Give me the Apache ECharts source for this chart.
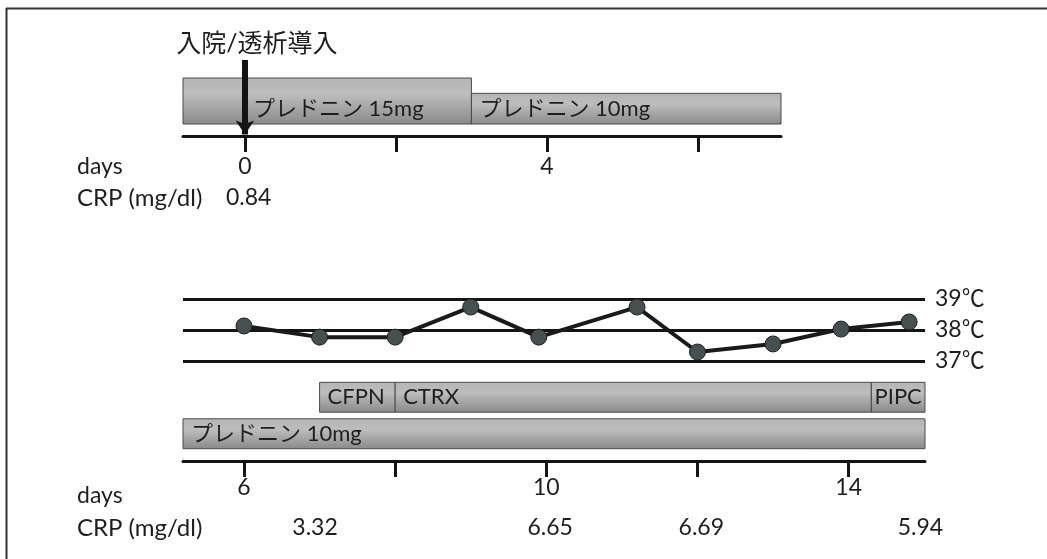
<!DOCTYPE html>
<html><head><meta charset="utf-8">
<script src="https://cdn.jsdelivr.net/npm/echarts@6/dist/echarts.min.js"></script>
<style>html,body{margin:0;padding:0;background:#fff}#c{width:1047px;height:559px}</style>
</head><body><div id="c"></div><script>
// ---- data ----
const admissionDay = 0;
const admissionLabel = '入院/透析導入';
const topDayRange = [-0.82, 7.10];
const topPredStart = [-0.82, 3.0];
const topPredEnd = [3.0, 7.10];
const topPredDose = [15, 10];
const topPredLabel = ['プレドニン 15mg', 'プレドニン 10mg'];
const topTicks = [0, 2, 4, 6];
const topTickLabels = [0, 4];
const topCrpDays = [0.05];
const topCrpValues = ['0.84'];

const bottomDayRange = [5.193, 15.01];
const tempDays = [6, 7, 8, 9, 9.9, 11.2, 12, 13, 13.9, 14.8];
const tempValues = [38.13, 37.77, 37.77, 38.74, 37.77, 38.74, 37.29, 37.55, 38.03, 38.26];
const tempRange = [37, 39];
const drugRows = ['プレドニン', '抗菌薬'];
const drugStart = [5.193, 7.0, 8.0, 14.3];
const drugEnd = [15.01, 8.0, 14.3, 15.01];
const drugRow = ['プレドニン', '抗菌薬', '抗菌薬', '抗菌薬'];
const drugLabel = ['プレドニン 10mg', 'CFPN', 'CTRX', 'PIPC'];
const bottomTicks = [6, 8, 10, 12, 14];
const bottomTickLabels = [6, 10, 14];
const bottomCrpDays = [6.94, 10.05, 12.05, 14.95];
const bottomCrpValues = ['3.32', '6.65', '6.69', '5.94'];
const rowTitles = ['days', 'CRP (mg/dl)'];

// ---- style ----
const FONT = 'Lato, "Noto Sans CJK JP", sans-serif';
const TXT = '#1e1e1e';
const INK = '#141414';
const FS = 23;
const barFill = {type:'linear', x:0, y:0, x2:0, y2:1, global:false,
  colorStops:[{offset:0,color:'#b4b4b4'},{offset:0.35,color:'#bdbdbd'},{offset:1,color:'#8a8a8a'}]};
const mctx = document.createElement('canvas').getContext('2d');
function textWidth(t, size){ mctx.font = size + 'px ' + FONT; return mctx.measureText(t).width; }
function lookup(days, vals){
  return function(v){ const i = days.findIndex(d => Math.abs(d - v) < 1e-6); return i >= 0 ? vals[i] : ''; };
}

const chart = echarts.init(document.getElementById('c'), null, {renderer:'canvas'});
const W = 1047, H = 559;

const option = {
  animation: false,
  grid: [
    {left:183, right:W-781, top:78, bottom:H-124},   // 0 top bars
    {left:183, right:W-781, top:60, bottom:H-136},   // 1 top axis + arrow
    {left:183, right:W-925, top:299, bottom:H-361},  // 2 temperature
    {left:183, right:W-925, top:379, bottom:H-452}   // 3 drug bars + bottom axis
  ],
  xAxis: [
    {gridIndex:0, type:'value', min:topDayRange[0], max:topDayRange[1], show:false},
    {gridIndex:1, type:'value', min:topDayRange[0], max:topDayRange[1], position:'bottom',
      axisLine:{show:true, onZero:false, lineStyle:{color:INK, width:3}},
      axisTick:{show:true, customValues:topTicks, length:16, lineStyle:{color:INK, width:3}},
      axisLabel:{show:true, customValues:topTickLabels, margin:19, fontSize:FS, color:TXT, fontFamily:FONT},
      splitLine:{show:false}},
    {gridIndex:1, type:'value', min:topDayRange[0], max:topDayRange[1], position:'bottom', offset:31,
      axisLine:{show:false}, axisTick:{show:false}, splitLine:{show:false},
      axisLabel:{show:true, customValues:topCrpDays, formatter:lookup(topCrpDays, topCrpValues), margin:19, fontSize:FS, color:TXT, fontFamily:FONT}},
    {gridIndex:2, type:'value', min:bottomDayRange[0], max:bottomDayRange[1], show:false},
    {gridIndex:3, type:'value', min:bottomDayRange[0], max:bottomDayRange[1], position:'bottom', offset:9,
      axisLine:{show:true, onZero:false, lineStyle:{color:INK, width:3}},
      axisTick:{show:true, customValues:bottomTicks, length:16, lineStyle:{color:INK, width:3}},
      axisLabel:{show:true, customValues:bottomTickLabels, margin:15, fontSize:FS, color:TXT, fontFamily:FONT},
      splitLine:{show:false}},
    {gridIndex:3, type:'value', min:bottomDayRange[0], max:bottomDayRange[1], position:'bottom', offset:49,
      axisLine:{show:false}, axisTick:{show:false}, splitLine:{show:false},
      axisLabel:{show:true, customValues:bottomCrpDays, formatter:lookup(bottomCrpDays, bottomCrpValues), margin:15, fontSize:FS, color:TXT, fontFamily:FONT}}
  ],
  yAxis: [
    {gridIndex:0, type:'value', min:0, max:Math.max(...topPredDose), show:false},
    {gridIndex:1, type:'value', min:0, max:1, show:false},
    {gridIndex:2, type:'value', min:tempRange[0], max:tempRange[1], interval:1, position:'right',
      axisLine:{show:false}, axisTick:{show:false},
      splitLine:{show:true, lineStyle:{color:INK, width:3}},
      axisLabel:{formatter:'{value}℃', margin:10, fontSize:FS, color:TXT, fontFamily:FONT}},
    {gridIndex:3, type:'category', data:drugRows, show:false}
  ],
  graphic: [
    {type:'line', shape:{x1:6, y1:8.5, x2:W, y2:8.5}, style:{stroke:'#333', lineWidth:2}},
    {type:'line', shape:{x1:6.5, y1:8, x2:6.5, y2:H}, style:{stroke:'#333', lineWidth:2}},
    {type:'text', style:{text:rowTitles[0], x:77, y:167, verticalAlign:'middle', font:FS+'px '+FONT, fill:TXT}},
    {type:'text', style:{text:rowTitles[1], x:77, y:198, verticalAlign:'middle', font:'24px '+FONT, fill:TXT}},
    {type:'text', style:{text:rowTitles[0], x:77, y:496, verticalAlign:'middle', font:FS+'px '+FONT, fill:TXT}},
    {type:'text', style:{text:rowTitles[1], x:77, y:528, verticalAlign:'middle', font:'24px '+FONT, fill:TXT}}
  ],
  series: [
    {
      type:'custom', xAxisIndex:0, yAxisIndex:0, z:2,
      data: topPredStart.map((s,i) => [s, topPredEnd[i], topPredDose[i]]),
      encode:{x:[0,1], y:2},
      renderItem: function(params, api){
        const i = params.dataIndex;
        const s = api.value(0), e = api.value(1), dose = api.value(2);
        const tl = api.coord([s, dose]), br = api.coord([e, 0]);
        const ly = api.coord([s, Math.min(...topPredDose)/2])[1];
        const lx = api.coord([Math.max(s, admissionDay), 0])[0] + 8;
        return {type:'group', children:[
          {type:'rect', shape:{x:tl[0], y:tl[1], width:br[0]-tl[0], height:br[1]-tl[1]},
            style:{fill:barFill, stroke:'#4a4a4a', lineWidth:1}},
          {type:'text', style:{text:topPredLabel[i], x:lx, y:ly, align:'left', verticalAlign:'middle',
            font:'22px '+FONT, fill:TXT}}
        ]};
      }
    },
    {
      type:'scatter', xAxisIndex:1, yAxisIndex:1, z:10, symbolSize:0, silent:true,
      data:[[admissionDay, 1]],
      markLine:{
        silent:true, symbol:['none','arrow'], symbolSize:14,
        lineStyle:{color:INK, width:6, type:'solid'},
        label:{show:true, position:'start', formatter:admissionLabel, fontSize:25, color:TXT,
          fontFamily:FONT, padding:[0,0,0,24], distance:4},
        data:[[{coord:[admissionDay, 1]}, {coord:[admissionDay, 0.02]}]]
      }
    },
    {
      type:'line', xAxisIndex:3, yAxisIndex:2, z:5,
      data: tempDays.map((d,i) => [d, tempValues[i]]),
      lineStyle:{color:'#1a1a1a', width:4},
      symbol:'circle', symbolSize:16,
      itemStyle:{color:'#465050', borderColor:'#222', borderWidth:1}
    },
    {
      type:'custom', xAxisIndex:4, yAxisIndex:3, z:2,
      data: drugStart.map((s,i) => [s, drugEnd[i], drugRows.indexOf(drugRow[i])]),
      encode:{x:[0,1], y:2},
      renderItem: function(params, api){
        const i = params.dataIndex;
        const s = api.value(0), e = api.value(1), row = api.value(2);
        const c0 = api.coord([s, row]), c1 = api.coord([e, row]);
        const h = api.size([0,1])[1] * 0.82;
        const w = c1[0] - c0[0];
        const tw = textWidth(drugLabel[i], 22);
        const pad = Math.max(1, Math.min(8, (w - tw)/2));
        return {type:'group', children:[
          {type:'rect', shape:{x:c0[0], y:c0[1]-h/2, width:w, height:h},
            style:{fill:barFill, stroke:'#4a4a4a', lineWidth:1}},
          {type:'text', style:{text:drugLabel[i], x:c0[0]+pad, y:c0[1], align:'left', verticalAlign:'middle',
            font:'22px '+FONT, fill:TXT}}
        ]};
      }
    }
  ]
};
chart.setOption(option);
</script></body></html>
